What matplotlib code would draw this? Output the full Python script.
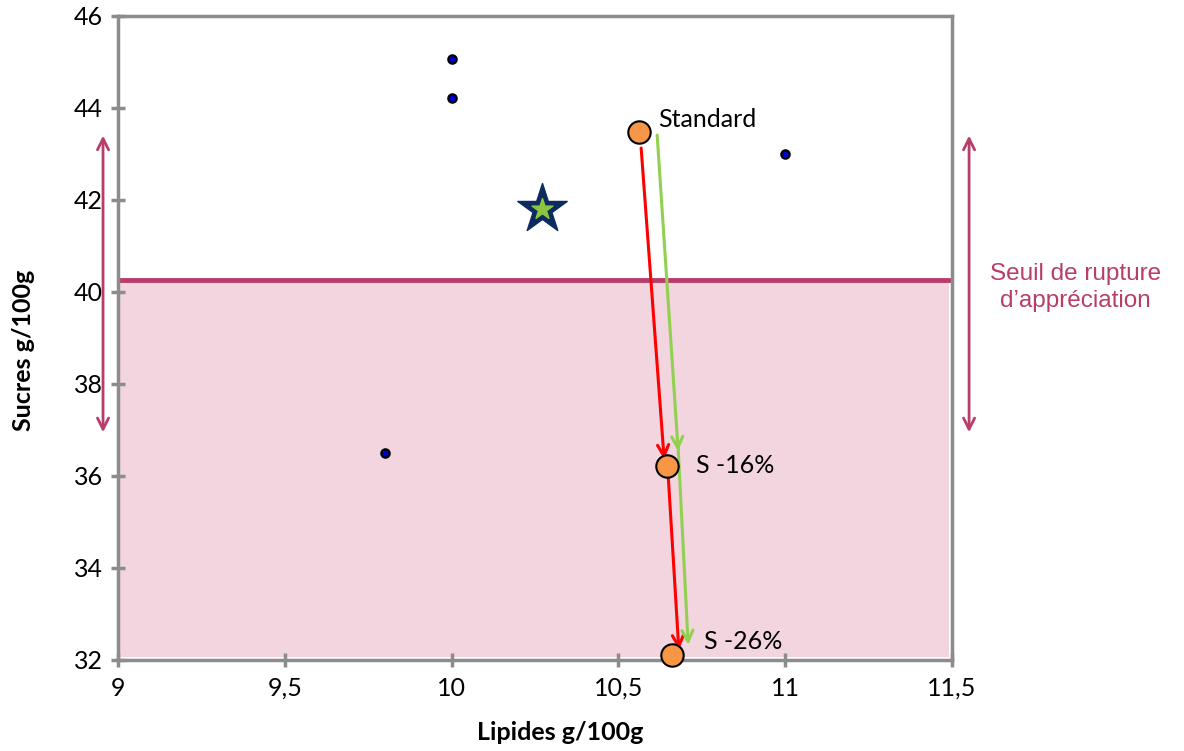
import matplotlib.pyplot as plt
import numpy as np

# data
other_x = [10.0, 10.0, 11.0, 9.8]
other_y = [45.07, 44.22, 43.0, 36.5]
star_x, star_y = 10.27, 41.8
prod_x = [10.562, 10.646, 10.661]
prod_y = [43.48, 36.22, 32.11]
prod_labels = ["Standard", "S -16%", "S -26%"]
seuil = 40.25
xticks = [9, 9.5, 10, 10.5, 11, 11.5]
xticklabels = ["9", "9,5", "10", "10,5", "11", "11,5"]
yticks = [32, 34, 36, 38, 40, 42, 44, 46]

# arrow paths (start, end) drawn next to the products
red_arrows = [((10.568, 43.13), (10.637, 36.36)), ((10.649, 36.02), (10.681, 32.22))]
green_arrows = [((10.616, 43.41), (10.679, 36.54)), ((10.679, 36.6), (10.709, 32.33))]

pink = "#B83D6A"
grey = "#8C8C8C"
plt.rcParams['font.family'] = ['Lato', 'DejaVu Sans']

fig = plt.figure(figsize=(11.84, 7.51), dpi=100)
ax = fig.add_axes([0.0997, 0.1212, 0.7044, 0.8575])
ax.set_xlim(9, 11.5)
ax.set_ylim(32, 46)

# zone under the threshold
ax.fill_between([9, 11.49], 32.07, seuil, color="#F2D5DF", zorder=0, lw=0)
ax.axhline(seuil, color=pink, lw=3.5, zorder=1)

ax.scatter(other_x, other_y, s=36, c="#0000CC", edgecolors="black", linewidths=1.6, zorder=5)
ax.scatter([star_x], [star_y], marker="*", s=1400, c="#0D2B5E", zorder=5)
ax.scatter([star_x], [star_y], marker="*", s=250, c="#8CC63F", zorder=6)

head = "->,head_length=0.8,head_width=0.4"
for (x0, y0), (x1, y1) in red_arrows:
    ax.annotate("", xy=(x1, y1), xytext=(x0, y0), zorder=4,
                arrowprops=dict(arrowstyle=head, color="#FF0000", lw=2.2, shrinkA=0, shrinkB=0))
for (x0, y0), (x1, y1) in green_arrows:
    ax.annotate("", xy=(x1, y1), xytext=(x0, y0), zorder=4,
                arrowprops=dict(arrowstyle=head, color="#92D050", lw=2.2, shrinkA=0, shrinkB=0))

ax.scatter(prod_x, prod_y, s=260, c="#F79646", edgecolors="black", linewidths=1.5, zorder=7, clip_on=False)
offsets = [(0.057, 0.26), (0.085, 0.0), (0.096, 0.3)]
for x, y, lab, (dx, dy) in zip(prod_x, prod_y, prod_labels, offsets):
    ax.text(x + dx, y + dy, lab, fontsize=18, va="center", ha="left", zorder=8)

# double arrows showing the threshold range
dbl = dict(arrowstyle="<->,head_length=0.8,head_width=0.4", color=pink, lw=2, shrinkA=0, shrinkB=0)
ax.annotate("", xy=(8.955, 43.4), xytext=(8.955, 36.95), arrowprops=dbl, annotation_clip=False)
ax.annotate("", xy=(11.551, 43.4), xytext=(11.551, 36.95), arrowprops=dbl, annotation_clip=False)
fig.text(0.908, 0.617, "Seuil de rupture\nd\u2019appr\u00e9ciation", color=pink, fontsize=17.5,
         ha="center", va="center", linespacing=1.3, family="Liberation Sans")

for s in ax.spines.values():
    s.set_color(grey)
    s.set_linewidth(2.5)
ax.set_xticks(xticks)
ax.set_xticklabels(xticklabels)
ax.set_yticks(yticks)
ax.tick_params(direction="inout", length=10, width=2.5, color=grey, labelsize=18)
ax.tick_params(axis="x", pad=7)
ax.tick_params(axis="y", pad=6)
ax.set_xlabel("Lipides g/100g", fontsize=18, fontweight="bold")
ax.set_ylabel("Sucres g/100g", fontsize=18, fontweight="bold")
ax.xaxis.set_label_coords(0.53, -0.094)
ax.yaxis.set_label_coords(-0.1, 0.481)

fig.savefig("out.png", dpi=100)
